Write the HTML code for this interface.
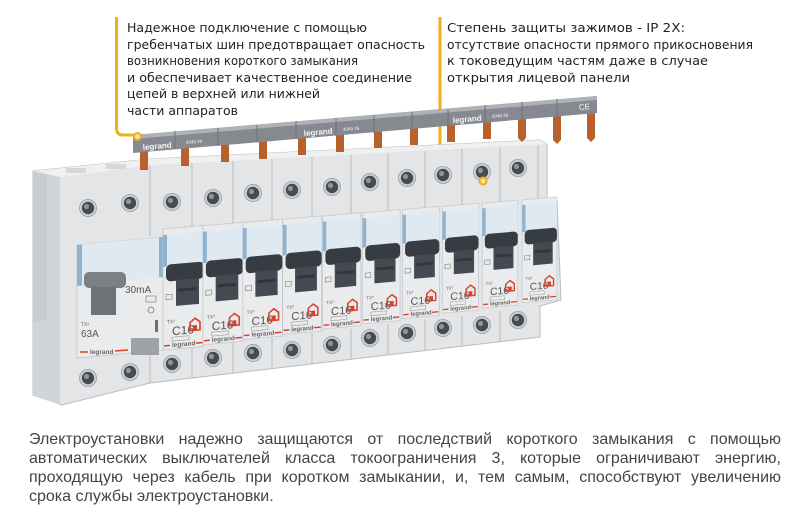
<!DOCTYPE html>
<html><head><meta charset="utf-8"><style>
html,body{margin:0;padding:0;background:#fff;}
#w{position:relative;width:800px;height:520px;overflow:hidden;background:#fff;}
svg{position:absolute;left:0;top:0;}
#p{position:absolute;left:29px;top:430px;width:752px;font-family:"Liberation Sans","DejaVu Sans",sans-serif;font-size:16px;line-height:19px;color:#444;}
#p div{text-align:justify;text-align-last:justify;white-space:nowrap;}
#p div.l{text-align-last:left;}
</style></head><body><div id="w">
<svg width="800" height="520" viewBox="0 0 800 520" xmlns="http://www.w3.org/2000/svg">
<defs>
<g id="term"><circle r="8.5" fill="#cfd3d6" stroke="#a3a8ad" stroke-width="1"/><circle r="6.2" fill="#444b51"/><circle cx="-1.5" cy="-1.5" r="2.6" fill="#8d959c"/></g>
<g id="mcb">
<rect x="0" y="-6" width="41" height="121" fill="#e9ebed" stroke="#c3c7cb" stroke-width="0.8"/>
<rect x="0" y="0" width="41" height="32" fill="#dfe9f2"/>
<rect x="0" y="0" width="4" height="32" fill="#8fb3cf"/>
<rect x="3" y="30" width="38" height="17" rx="5" fill="#363c42"/>
<rect x="13" y="46" width="23" height="26" fill="#434a51"/>
<rect x="15" y="55" width="19" height="3" fill="#30363c"/>
<rect x="3" y="60" width="6" height="5" fill="none" stroke="#888" stroke-width="0.7"/>
<text x="4" y="89" font-family="Liberation Sans,sans-serif" font-size="5" fill="#666">TX³</text>
<text x="9" y="101" font-family="Liberation Sans,sans-serif" font-size="12" fill="#555">C16</text>
<path d="M27 98 L27 90 L32 86 L37 90 L37 98 Z" fill="none" stroke="#d8402a" stroke-width="1.6"/>
<rect x="30" y="93" width="4" height="5" fill="#d8402a"/>
<rect x="9" y="103" width="17" height="4" fill="none" stroke="#999" stroke-width="0.6"/>
<line x1="1" y1="111" x2="7" y2="111" stroke="#d8402a" stroke-width="1.5"/>
<text x="9" y="113" font-family="Liberation Sans,sans-serif" font-size="6.5" font-weight="bold" fill="#666">legrand</text>
<line x1="33" y1="111" x2="40" y2="111" stroke="#d8402a" stroke-width="1.5"/>
</g>
</defs>

<path d="M116.5 17 V128 Q116.5 135 123 135 H134" fill="none" stroke="#eeb016" stroke-width="3"/>
<path d="M440 17 V174 Q440 180.5 446 180.5 H479" fill="none" stroke="#eeb016" stroke-width="3"/>

<path d="M33 171 L150 159 L540 140 L547 144 L547 200 L557 200 L561 300 L540 306 L540 337 L150 383 L62 405 L33 395 Z" fill="#e3e5e7" stroke="#b9bdc1"/>
<path d="M33 171 L60 176 L60 405 L33 395 Z" fill="#d2d5d8"/>
<path d="M33 171 L47 172 L47 320 L33 322 Z" fill="#c9ccd0"/>
<path d="M33 171 L150 159 L540 140 L547 144 L155 165 L60 177 Z" fill="#eff0f1"/>
<rect x="66" y="168" width="20" height="5" fill="#d5d8db"/><rect x="106" y="164" width="20" height="5" fill="#d5d8db"/>
<g stroke="#b8bcc0" stroke-width="1">
<line x1="150" y1="165" x2="150" y2="236"/><line x1="192" y1="163" x2="192" y2="232"/><line x1="233" y1="161" x2="233" y2="229"/><line x1="272" y1="159" x2="272" y2="226"/><line x1="312" y1="157" x2="312" y2="222"/><line x1="351" y1="155" x2="351" y2="219"/><line x1="388" y1="153" x2="388" y2="216"/><line x1="425" y1="151" x2="425" y2="213"/><line x1="462" y1="149" x2="462" y2="210"/><line x1="500" y1="147" x2="500" y2="207"/><line x1="538" y1="145" x2="538" y2="204"/>
<line x1="150" y1="352" x2="150" y2="383"/><line x1="192" y1="347" x2="192" y2="378"/><line x1="233" y1="342" x2="233" y2="373"/><line x1="272" y1="338" x2="272" y2="369"/><line x1="312" y1="333" x2="312" y2="364"/><line x1="351" y1="329" x2="351" y2="360"/><line x1="388" y1="324" x2="388" y2="355"/><line x1="425" y1="320" x2="425" y2="351"/><line x1="462" y1="316" x2="462" y2="347"/><line x1="500" y1="311" x2="500" y2="342"/>
</g>

<path d="M77 245 L163 237 L163 350 L77 358 Z" fill="#e9ebed" stroke="#c3c7cb" stroke-width="0.8"/>
<path d="M77 245 L163 237 L163 277 L77 286 Z" fill="#dfe9f2"/>
<path d="M77 245 L82 244.5 L82 285.5 L77 286 Z" fill="#8fb3cf"/>
<path d="M159 237.4 L163 237 L163 277 L159 277.4 Z" fill="#8fb3cf"/>
<rect x="84" y="272" width="42" height="16" rx="5" fill="#7b8085"/>
<rect x="91" y="287" width="25" height="28" fill="#6d7277"/>
<text x="125" y="293" font-family="Liberation Sans,sans-serif" font-size="10" fill="#555">30mA</text>
<rect x="146" y="296" width="10" height="6" fill="none" stroke="#888" stroke-width="0.7"/>
<circle cx="151" cy="310" r="3" fill="none" stroke="#777" stroke-width="0.8"/>
<rect x="155" y="320" width="3" height="12" fill="#6a7076"/>
<text x="81" y="326" font-family="Liberation Sans,sans-serif" font-size="5" fill="#666">TX³</text>
<text x="81" y="337" font-family="Liberation Sans,sans-serif" font-size="10" fill="#555">63A</text>
<rect x="131" y="338" width="28" height="17" fill="#9ea2a6"/>
<line x1="80" y1="352" x2="88" y2="352" stroke="#d8402a" stroke-width="1.5"/>
<text x="90" y="354" font-family="Liberation Sans,sans-serif" font-size="6.5" font-weight="bold" fill="#666">legrand</text>
<line x1="115" y1="351" x2="128" y2="350" stroke="#d8402a" stroke-width="1.5"/>

<use href="#mcb" transform="translate(163,235) skewY(-5) scale(1)"/>
<use href="#mcb" transform="translate(202.9,231.7) skewY(-5) scale(0.983)"/>
<use href="#mcb" transform="translate(242.8,228.3) skewY(-5) scale(0.967)"/>
<use href="#mcb" transform="translate(282.7,225) skewY(-5) scale(0.95)"/>
<use href="#mcb" transform="translate(322.6,221.7) skewY(-5) scale(0.933)"/>
<use href="#mcb" transform="translate(362.5,218.4) skewY(-5) scale(0.917)"/>
<use href="#mcb" transform="translate(402.4,215) skewY(-5) scale(0.9)"/>
<use href="#mcb" transform="translate(442.3,211.7) skewY(-5) scale(0.883)"/>
<use href="#mcb" transform="translate(482.2,208.4) skewY(-5) scale(0.867)"/>
<use href="#mcb" transform="translate(522.1,205) skewY(-5) scale(0.85)"/>

<use href="#term" x="88" y="208"/><use href="#term" x="130" y="203"/><use href="#term" x="172" y="202"/><use href="#term" x="213" y="198"/><use href="#term" x="253" y="193"/><use href="#term" x="292" y="190"/><use href="#term" x="332" y="187"/><use href="#term" x="370" y="182"/><use href="#term" x="407" y="178"/><use href="#term" x="443" y="175"/><use href="#term" x="482" y="172"/><use href="#term" x="518" y="168"/>
<use href="#term" x="88" y="378"/><use href="#term" x="130" y="372"/><use href="#term" x="172" y="364"/><use href="#term" x="213" y="358"/><use href="#term" x="253" y="353"/><use href="#term" x="292" y="350"/><use href="#term" x="332" y="345"/><use href="#term" x="370" y="338"/><use href="#term" x="407" y="333"/><use href="#term" x="443" y="328"/><use href="#term" x="482" y="325"/><use href="#term" x="518" y="320"/>

<g fill="#b8612c">
<rect x="140" y="148" width="8" height="22"/><rect x="181" y="145" width="8" height="21"/><rect x="221" y="141" width="8" height="21"/><rect x="259" y="138" width="8" height="21"/><rect x="298" y="135" width="8" height="20"/><rect x="336" y="132" width="8" height="20"/><rect x="374" y="128" width="8" height="20"/><rect x="410" y="125" width="8" height="20"/><rect x="447" y="122" width="8" height="20"/><rect x="483" y="119" width="8" height="20"/>
<path d="M518 116 h8 v22 l-4 4 l-4 -4 z"/><path d="M553 113 h8 v27 l-4 4 l-4 -4 z"/><path d="M587 110 h8 v28 l-4 4 l-4 -4 z"/>
</g>
<path d="M133 135 L597 96 L597 113 L133 153 Z" fill="#868a90"/>
<path d="M133 135 L597 96 L597 100 L133 139 Z" fill="#aeb2b6"/>
<g stroke="#6e7278" stroke-width="1">
<line x1="175" y1="131" x2="175" y2="149"/><line x1="218" y1="128" x2="218" y2="146"/><line x1="257" y1="125" x2="257" y2="142"/><line x1="296" y1="121" x2="296" y2="139"/><line x1="336" y1="118" x2="336" y2="136"/><line x1="374" y1="115" x2="374" y2="133"/><line x1="412" y1="112" x2="412" y2="129"/><line x1="448" y1="109" x2="448" y2="126"/><line x1="485" y1="105" x2="485" y2="123"/><line x1="522" y1="102" x2="522" y2="120"/><line x1="557" y1="99" x2="557" y2="117"/>
</g>
<g font-family="Liberation Sans,sans-serif" fill="#f4f4f4">
<text x="143" y="150" font-size="8" font-weight="bold" transform="rotate(-4.8 143 150)">legrand</text>
<text x="304" y="136" font-size="8" font-weight="bold" transform="rotate(-4.8 304 136)">legrand</text>
<text x="453" y="123" font-size="8" font-weight="bold" transform="rotate(-4.8 453 123)">legrand</text>
<text x="186" y="144" font-size="4.5" transform="rotate(-4.8 186 144)">4049 26</text>
<text x="343" y="131" font-size="4.5" transform="rotate(-4.8 343 131)">4049 26</text>
<text x="492" y="118" font-size="4.5" transform="rotate(-4.8 492 118)">4049 26</text>
<text x="579" y="110" font-size="8" transform="rotate(-4.8 579 110)">CE</text>
</g>

<circle cx="137.5" cy="136.5" r="3.5" fill="#f6e3a0" stroke="#eeb016" stroke-width="2"/>
<circle cx="483" cy="181" r="3.5" fill="#f6e3a0" stroke="#eeb016" stroke-width="2"/>

<g font-family="DejaVu Sans,Liberation Sans,sans-serif" font-size="12.5" fill="#222">
<text x="127" y="32" textLength="240" lengthAdjust="spacingAndGlyphs">Надежное подключение с помощью</text>
<text x="127" y="49" textLength="298" lengthAdjust="spacingAndGlyphs">гребенчатых шин предотвращает опасность</text>
<text x="127" y="65" textLength="231" lengthAdjust="spacingAndGlyphs">возникновения короткого замыкания</text>
<text x="127" y="82" textLength="285" lengthAdjust="spacingAndGlyphs">и обеспечивает качественное соединение</text>
<text x="127" y="98" textLength="193" lengthAdjust="spacingAndGlyphs">цепей в верхней или нижней</text>
<text x="127" y="115" textLength="111" lengthAdjust="spacingAndGlyphs">части аппаратов</text>
<text x="447" y="32" textLength="238" lengthAdjust="spacingAndGlyphs">Степень защиты зажимов - IP 2X:</text>
<text x="447" y="49" textLength="306" lengthAdjust="spacingAndGlyphs">отсутствие опасности прямого прикосновения</text>
<text x="447" y="65" textLength="261" lengthAdjust="spacingAndGlyphs">к токоведущим частям даже в случае</text>
<text x="447" y="82" textLength="183" lengthAdjust="spacingAndGlyphs">открытия лицевой панели</text>
</g>
</svg>
<div id="p">
<div>Электроустановки надежно защищаются от последствий короткого замыкания с помощью</div>
<div>автоматических выключателей класса токоограничения 3, которые ограничивают энергию,</div>
<div>проходящую через кабель при коротком замыкании, и, тем самым, способствуют увеличению</div>
<div class="l">срока службы электроустановки.</div>
</div>
</div></body></html>
